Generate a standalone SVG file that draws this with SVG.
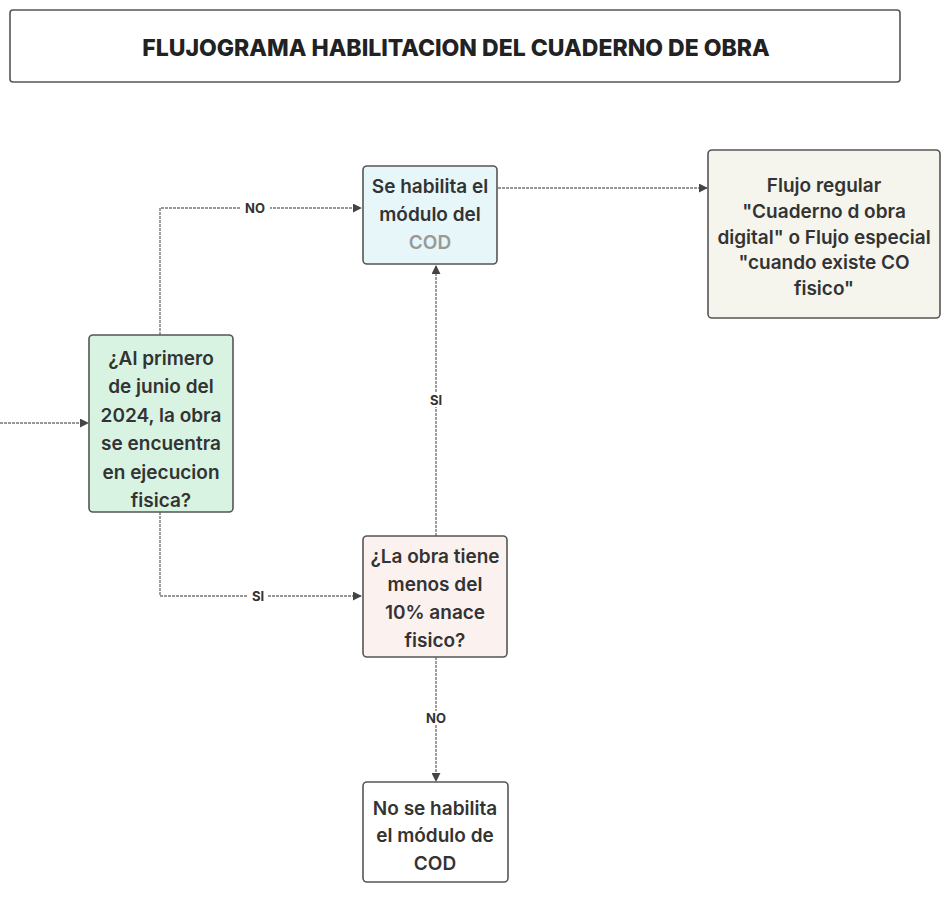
<svg xmlns="http://www.w3.org/2000/svg" width="946" height="898" viewBox="0 0 946 898">
<defs>
<marker id="arr" viewBox="0 0 10 10" refX="9" refY="5" markerWidth="9" markerHeight="9" orient="auto" markerUnits="userSpaceOnUse">
<path d="M0,0 L10,5 L0,10 z" fill="#444"/>
</marker>
</defs>
<style>
.box{stroke:#555;stroke-width:1.6}
.t{font-family:Inter,"Liberation Sans",sans-serif;font-size:19px;font-weight:600;fill:#333;text-anchor:middle}
.title{font-family:Inter,"Liberation Sans",sans-serif;font-size:23px;font-weight:800;fill:#222;text-anchor:middle}
.c{fill:none;stroke:#777;stroke-width:1.4;stroke-dasharray:3 1}
.lbl{font-family:Inter,"Liberation Sans",sans-serif;font-size:13px;font-weight:700;fill:#333;text-anchor:middle}
</style>
<rect width="946" height="898" fill="#fff"/>
<g id="title">
<rect class="box" x="10" y="10" width="890" height="72" rx="3" fill="#fff"/>
<text class="title" x="456" y="56">FLUJOGRAMA HABILITACION DEL CUADERNO DE OBRA</text>
</g>
<g id="connectors">
<path class="c" d="M0,423 L88,423" marker-end="url(#arr)"/>
<path class="c" d="M160,335 L160,208 L361,208" marker-end="url(#arr)"/>
<path class="c" d="M160,512 L160,596 L361,596" marker-end="url(#arr)"/>
<path class="c" d="M436,536 L436,266" marker-end="url(#arr)"/>
<path class="c" d="M498,188 L707,188" marker-end="url(#arr)"/>
<path class="c" d="M436,657 L436,781" marker-end="url(#arr)"/>
<rect x="240" y="201" width="30" height="14" fill="#fff"/>
<text class="lbl" x="255" y="213">NO</text>
<rect x="248" y="589" width="20" height="14" fill="#fff"/>
<text class="lbl" x="258" y="601">SI</text>
<rect x="428" y="393" width="16" height="14" fill="#fff"/>
<text class="lbl" x="436" y="405">SI</text>
<rect x="422" y="711" width="28" height="14" fill="#fff"/>
<text class="lbl" x="436" y="723">NO</text>
</g>
<g id="node-cod">
<rect class="box" x="363" y="166" width="134" height="98" rx="4" fill="#e7f6f8"/>
<text class="t" x="430" y="193">Se habilita el</text>
<text class="t" x="430" y="221">módulo del</text>
<text class="t" x="430" y="249" style="fill:#999">COD</text>
</g>
<g id="node-flujo">
<rect class="box" x="708" y="150" width="232" height="168" rx="4" fill="#f5f5ee"/>
<text class="t" x="824" y="192">Flujo regular</text>
<text class="t" x="824" y="218">"Cuaderno d obra</text>
<text class="t" x="824" y="244">digital" o Flujo especial</text>
<text class="t" x="824" y="269">"cuando existe CO</text>
<text class="t" x="824" y="295">fisico"</text>
</g>
<g id="node-q1">
<rect class="box" x="89" y="335" width="144" height="177" rx="4" fill="#d9f3e3"/>
<text class="t" x="161" y="365">¿Al primero</text>
<text class="t" x="161" y="393">de junio del</text>
<text class="t" x="161" y="422">2024, la obra</text>
<text class="t" x="161" y="450">se encuentra</text>
<text class="t" x="161" y="479">en ejecucion</text>
<text class="t" x="161" y="507">fisica?</text>
</g>
<g id="node-q2">
<rect class="box" x="363" y="536" width="144" height="121" rx="4" fill="#fbf1ef"/>
<text class="t" x="435" y="563">¿La obra tiene</text>
<text class="t" x="435" y="591">menos del</text>
<text class="t" x="435" y="619">10% anace</text>
<text class="t" x="435" y="647">fisico?</text>
</g>
<g id="node-no">
<rect class="box" x="363" y="782" width="145" height="100" rx="4" fill="#fff"/>
<text class="t" x="435" y="815">No se habilita</text>
<text class="t" x="435" y="842">el módulo de</text>
<text class="t" x="435" y="870">COD</text>
</g>
</svg>
